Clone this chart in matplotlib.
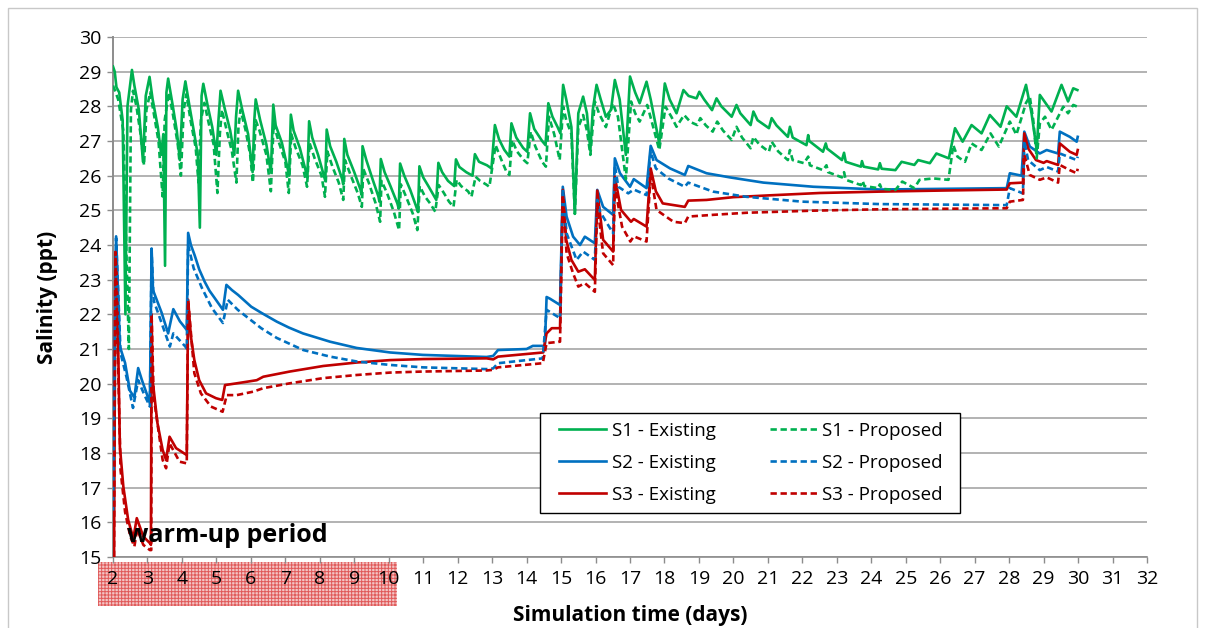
import matplotlib
matplotlib.use("Agg")
import matplotlib.pyplot as plt
from matplotlib.patches import Rectangle

plt.rcParams['font.family'] = ['Open Sans', 'DejaVu Sans']
plt.rcParams['hatch.linewidth'] = 0.7

# ---- salinity series: (simulation day, salinity in ppt) ----
s1_existing = [
    (2.00, 29.15), (2.05, 29.00), (2.10, 28.55), (2.18, 28.40), (2.28, 27.60), (2.36, 22.00),
    (2.42, 28.00), (2.55, 29.05), (2.62, 28.60), (2.75, 27.90), (2.87, 26.40), (2.95, 28.30),
    (3.06, 28.85), (3.15, 28.20), (3.30, 27.40), (3.40, 26.60), (3.46, 27.20), (3.51, 23.40),
    (3.55, 28.40), (3.60, 28.80), (3.72, 28.10), (3.85, 27.30), (3.94, 26.45), (4.02, 28.20),
    (4.10, 28.72), (4.22, 28.00), (4.36, 27.20), (4.46, 26.60), (4.52, 24.50), (4.57, 28.30),
    (4.62, 28.65), (4.75, 28.00), (4.88, 27.40), (5.00, 26.60), (5.06, 27.60), (5.12, 28.45),
    (5.25, 27.90), (5.40, 27.30), (5.52, 26.60), (5.57, 27.70), (5.63, 28.45), (5.75, 27.90),
    (5.92, 27.20), (6.05, 26.10), (6.10, 27.60), (6.14, 28.20), (6.27, 27.60), (6.45, 26.90),
    (6.58, 26.10), (6.65, 28.05), (6.72, 27.45), (6.90, 26.95), (7.08, 26.15), (7.11, 26.00),
    (7.16, 27.76), (7.24, 27.30), (7.42, 26.80), (7.60, 26.10), (7.64, 25.95), (7.69, 27.57),
    (7.78, 27.10), (7.95, 26.60), (8.12, 26.00), (8.16, 25.85), (8.20, 27.33), (8.30, 26.85),
    (8.48, 26.40), (8.65, 25.90), (8.68, 25.75), (8.71, 27.06), (8.80, 26.60), (9.00, 26.10),
    (9.18, 25.60), (9.21, 25.45), (9.24, 26.85), (9.35, 26.45), (9.53, 25.90), (9.70, 25.40),
    (9.73, 25.25), (9.77, 26.48), (9.88, 26.10), (10.05, 25.70), (10.25, 25.20), (10.29, 25.05),
    (10.33, 26.35), (10.45, 26.00), (10.62, 25.60), (10.80, 25.10), (10.85, 24.95), (10.89, 26.27),
    (11.00, 25.95), (11.15, 25.70), (11.32, 25.40), (11.38, 25.30), (11.44, 26.37), (11.55, 26.10),
    (11.72, 25.85), (11.90, 25.70), (11.95, 26.47), (12.05, 26.25), (12.25, 26.10), (12.43, 26.00),
    (12.50, 26.62), (12.62, 26.40), (12.85, 26.30), (12.98, 26.21), (13.08, 27.46), (13.20, 27.05),
    (13.35, 26.75), (13.50, 26.55), (13.56, 27.51), (13.70, 27.10), (13.90, 26.80), (14.02, 26.69),
    (14.10, 27.80), (14.22, 27.35), (14.45, 27.00), (14.55, 26.88), (14.63, 28.09), (14.75, 27.70),
    (14.90, 27.40), (14.98, 27.22), (15.06, 28.62), (15.15, 28.20), (15.30, 27.40), (15.40, 24.90),
    (15.50, 27.80), (15.64, 28.28), (15.75, 27.80), (15.85, 26.74), (15.92, 27.90), (16.03, 28.62),
    (16.15, 28.20), (16.30, 27.70), (16.45, 27.90), (16.56, 28.76), (16.70, 28.20), (16.88, 26.60),
    (17.00, 28.86), (17.15, 28.40), (17.28, 28.09), (17.48, 28.71), (17.60, 28.20), (17.85, 26.93),
    (18.01, 28.66), (18.15, 28.20), (18.35, 27.80), (18.55, 28.47), (18.70, 28.30), (18.93, 28.23),
    (19.01, 28.42), (19.15, 28.20), (19.38, 27.89), (19.51, 28.23), (19.65, 28.00), (19.95, 27.70),
    (20.09, 28.04), (20.20, 27.80), (20.50, 27.46), (20.58, 27.85), (20.70, 27.60), (21.03, 27.37),
    (21.11, 27.66), (21.25, 27.45), (21.58, 27.12), (21.64, 27.41), (21.72, 27.10), (22.12, 26.88),
    (22.17, 27.17), (22.20, 27.00), (22.60, 26.69), (22.68, 26.93), (22.72, 26.78), (23.15, 26.45),
    (23.21, 26.66), (23.26, 26.40), (23.70, 26.26), (23.73, 26.42), (23.78, 26.26), (24.20, 26.18),
    (24.25, 26.36), (24.30, 26.20), (24.70, 26.16), (24.88, 26.40), (25.25, 26.31), (25.36, 26.45),
    (25.70, 26.36), (25.89, 26.64), (26.25, 26.50), (26.43, 27.37), (26.65, 26.98), (26.91, 27.46),
    (27.20, 27.22), (27.44, 27.75), (27.75, 27.41), (27.93, 28.00), (28.21, 27.70), (28.49, 28.62),
    (28.65, 27.80), (28.80, 26.74), (28.89, 28.33), (29.23, 27.85), (29.52, 28.62), (29.71, 28.14),
    (29.86, 28.52), (29.98, 28.47),
]

s1_proposed = [
    (2.00, 28.60), (2.06, 28.45), (2.15, 28.20), (2.30, 27.30), (2.46, 21.00), (2.52, 27.90),
    (2.58, 28.45), (2.68, 28.00), (2.80, 27.20), (2.90, 26.30), (2.97, 27.90), (3.08, 28.40),
    (3.20, 27.70), (3.32, 27.00), (3.44, 25.40), (3.50, 27.60), (3.62, 28.40), (3.75, 27.70),
    (3.88, 26.90), (3.97, 26.00), (4.05, 27.90), (4.13, 28.35), (4.25, 27.60), (4.40, 26.80),
    (4.48, 25.80), (4.55, 27.60), (4.65, 28.10), (4.78, 27.50), (4.92, 26.90), (5.03, 25.50),
    (5.10, 27.20), (5.16, 27.90), (5.30, 27.30), (5.45, 26.70), (5.58, 25.80), (5.64, 27.40),
    (5.70, 27.90), (5.85, 27.30), (5.98, 26.60), (6.06, 25.80), (6.14, 27.60), (6.25, 27.30),
    (6.45, 26.60), (6.58, 25.55), (6.66, 27.50), (6.80, 27.00), (7.00, 26.40), (7.10, 25.50),
    (7.17, 27.20), (7.30, 26.80), (7.50, 26.30), (7.63, 25.68), (7.70, 26.95), (7.85, 26.50),
    (8.05, 26.00), (8.15, 25.39), (8.22, 26.70), (8.37, 26.25), (8.55, 25.80), (8.68, 25.30),
    (8.73, 26.45), (8.90, 26.00), (9.10, 25.50), (9.22, 25.10), (9.26, 26.20), (9.42, 25.80),
    (9.62, 25.20), (9.75, 24.67), (9.79, 25.85), (9.95, 25.50), (10.15, 24.95), (10.30, 24.43),
    (10.35, 25.75), (10.50, 25.40), (10.70, 24.90), (10.83, 24.43), (10.90, 25.70), (11.05, 25.40),
    (11.20, 25.20), (11.35, 24.96), (11.45, 25.73), (11.60, 25.50), (11.75, 25.25), (11.88, 25.10),
    (11.97, 25.88), (12.10, 25.70), (12.30, 25.55), (12.40, 25.39), (12.52, 25.97), (12.65, 25.85),
    (12.82, 25.75), (12.92, 25.68), (13.10, 26.88), (13.25, 26.50), (13.42, 26.10), (13.50, 26.02),
    (13.58, 27.03), (13.72, 26.70), (13.92, 26.45), (14.02, 26.36), (14.12, 27.27), (14.25, 26.85),
    (14.45, 26.40), (14.56, 26.26), (14.65, 27.70), (14.80, 27.20), (14.96, 26.45), (15.06, 27.99),
    (15.15, 27.60), (15.30, 27.20), (15.40, 24.90), (15.50, 27.40), (15.64, 27.75), (15.75, 27.30),
    (15.85, 26.60), (15.98, 28.14), (16.10, 27.80), (16.30, 27.40), (16.50, 28.09), (16.65, 27.70),
    (16.88, 25.90), (17.03, 28.14), (17.15, 27.80), (17.28, 27.56), (17.50, 28.04), (17.62, 27.60),
    (17.85, 26.74), (18.03, 27.99), (18.20, 27.70), (18.35, 27.41), (18.57, 27.75), (18.75, 27.55),
    (18.95, 27.46), (19.04, 27.66), (19.20, 27.45), (19.40, 27.27), (19.53, 27.56), (19.70, 27.30),
    (19.95, 27.03), (20.09, 27.41), (20.25, 27.10), (20.50, 26.79), (20.58, 27.12), (20.75, 26.90),
    (21.03, 26.69), (21.11, 26.98), (21.30, 26.70), (21.58, 26.45), (21.64, 26.74), (21.72, 26.45),
    (22.05, 26.36), (22.17, 26.55), (22.22, 26.30), (22.60, 26.16), (22.70, 26.30), (22.75, 26.10),
    (23.15, 25.95), (23.21, 26.10), (23.26, 25.88), (23.70, 25.73), (23.75, 25.85), (23.80, 25.70),
    (24.20, 25.64), (24.25, 25.75), (24.30, 25.62), (24.70, 25.59), (24.90, 25.83), (25.25, 25.64),
    (25.40, 25.88), (25.80, 25.92), (26.24, 25.88), (26.38, 26.88), (26.50, 26.55), (26.72, 26.40),
    (26.91, 26.93), (27.20, 26.74), (27.46, 27.22), (27.70, 26.84), (28.02, 27.56), (28.21, 27.18),
    (28.49, 28.10), (28.60, 28.28), (28.70, 27.60), (28.80, 26.50), (28.89, 27.50), (29.04, 27.70),
    (29.23, 27.32), (29.57, 27.99), (29.71, 27.80), (29.86, 28.04), (29.98, 27.99),
]

s2_existing = [
    (2.00, 16.30), (2.09, 24.25), (2.20, 21.07), (2.35, 20.60), (2.49, 19.80), (2.62, 19.60),
    (2.73, 20.45), (2.84, 20.10), (3.07, 19.45), (3.12, 23.90), (3.16, 22.70), (3.41, 22.05),
    (3.60, 21.45), (3.75, 22.15), (3.94, 21.80), (4.14, 21.55), (4.18, 24.35), (4.26, 24.00),
    (4.37, 23.70), (4.50, 23.30), (4.66, 22.94), (4.80, 22.68), (4.95, 22.47), (5.19, 22.13),
    (5.29, 22.85), (5.45, 22.70), (5.63, 22.56), (6.01, 22.22), (6.31, 22.04), (6.75, 21.79),
    (7.10, 21.62), (7.51, 21.45), (8.30, 21.21), (9.07, 21.03), (10.04, 20.90), (10.99, 20.83),
    (12.84, 20.77), (13.03, 20.80), (13.17, 20.97), (14.00, 21.00), (14.18, 21.09), (14.53, 21.09),
    (14.58, 22.50), (14.68, 22.45), (14.97, 22.27), (15.05, 25.68), (15.16, 24.82), (15.35, 24.24),
    (15.55, 24.00), (15.69, 24.24), (15.98, 24.05), (16.05, 25.59), (16.22, 25.10), (16.51, 24.87),
    (16.56, 26.50), (16.71, 26.07), (17.00, 25.68), (17.11, 25.90), (17.48, 25.64), (17.60, 26.86),
    (17.77, 26.45), (18.16, 26.21), (18.59, 26.02), (18.69, 26.28), (19.22, 26.07), (19.90, 25.95),
    (20.87, 25.80), (22.32, 25.68), (24.25, 25.60), (27.93, 25.64), (28.02, 26.07), (28.36, 26.00),
    (28.44, 27.27), (28.60, 26.84), (28.89, 26.64), (29.09, 26.74), (29.42, 26.64), (29.47, 27.27),
    (29.76, 27.12), (29.96, 26.98), (29.99, 27.12),
]

s2_proposed = [
    (2.00, 16.30), (2.09, 24.20), (2.22, 20.88), (2.39, 20.20), (2.58, 19.30), (2.73, 20.10),
    (2.90, 19.70), (3.07, 19.34), (3.12, 23.80), (3.18, 22.40), (3.41, 21.75), (3.65, 21.07),
    (3.75, 21.45), (4.10, 21.07), (4.14, 21.00), (4.18, 24.00), (4.34, 23.33), (4.58, 22.76),
    (4.87, 22.18), (5.19, 21.75), (5.33, 22.42), (5.62, 22.13), (6.30, 21.60), (6.75, 21.32),
    (7.52, 20.97), (8.30, 20.78), (9.07, 20.64), (10.04, 20.54), (11.00, 20.47), (12.84, 20.42),
    (13.03, 20.44), (13.17, 20.59), (14.47, 20.73), (14.58, 22.13), (14.97, 21.89), (15.05, 25.60),
    (15.16, 24.34), (15.45, 23.57), (15.64, 23.81), (15.98, 23.57), (16.05, 25.30), (16.13, 24.96),
    (16.51, 24.34), (16.56, 26.30), (16.66, 25.68), (16.95, 25.49), (17.11, 25.60), (17.48, 25.44),
    (17.60, 26.70), (17.75, 26.21), (18.11, 25.92), (18.59, 25.68), (18.69, 25.80), (19.41, 25.54),
    (20.38, 25.39), (22.00, 25.25), (24.25, 25.18), (27.93, 25.15), (28.02, 25.64), (28.40, 25.49),
    (28.44, 27.00), (28.55, 26.45), (28.89, 26.16), (29.09, 26.25), (29.42, 26.12), (29.47, 26.64),
    (29.96, 26.45), (29.99, 26.55),
]

s3_existing = [
    (2.03, 15.00), (2.07, 23.80), (2.11, 23.00), (2.15, 21.07), (2.20, 18.18), (2.30, 17.03),
    (2.44, 16.07), (2.59, 15.54), (2.69, 16.12), (2.88, 15.59), (3.07, 15.40), (3.10, 15.35),
    (3.12, 22.00), (3.15, 20.10), (3.29, 18.86), (3.44, 18.09), (3.54, 17.80), (3.64, 18.47),
    (3.83, 18.14), (4.14, 17.94), (4.18, 22.42), (4.26, 21.36), (4.36, 20.68), (4.50, 20.10),
    (4.70, 19.72), (4.99, 19.58), (5.17, 19.53), (5.25, 19.96), (5.59, 20.01), (6.17, 20.10),
    (6.36, 20.20), (7.13, 20.35), (8.10, 20.51), (9.07, 20.61), (10.04, 20.68), (11.00, 20.71),
    (12.84, 20.73), (13.03, 20.70), (13.17, 20.78), (14.48, 20.90), (14.58, 21.45), (14.73, 21.60),
    (14.97, 21.60), (15.05, 25.59), (15.15, 24.15), (15.30, 23.57), (15.50, 23.23), (15.69, 23.30),
    (15.98, 22.99), (16.05, 25.57), (16.22, 24.15), (16.51, 23.81), (16.56, 25.97), (16.74, 25.01),
    (17.03, 24.67), (17.11, 24.75), (17.48, 24.53), (17.60, 26.21), (17.75, 25.55), (17.95, 25.20),
    (18.59, 25.10), (18.69, 25.28), (19.22, 25.30), (20.00, 25.38), (21.00, 25.43), (22.50, 25.50),
    (24.25, 25.54), (26.00, 25.57), (27.93, 25.60), (28.02, 25.78), (28.40, 25.80), (28.44, 27.22),
    (28.55, 26.79), (28.78, 26.45), (29.00, 26.37), (29.09, 26.42), (29.42, 26.31), (29.47, 26.93),
    (29.76, 26.69), (29.96, 26.60), (29.99, 26.74),
]

s3_proposed = [
    (2.03, 15.00), (2.07, 23.80), (2.15, 20.50), (2.22, 17.50), (2.35, 16.30), (2.50, 15.60),
    (2.62, 15.30), (2.70, 15.80), (2.88, 15.35), (3.07, 15.20), (3.11, 15.20), (3.12, 22.00),
    (3.18, 19.63), (3.44, 17.80), (3.54, 17.56), (3.64, 18.28), (3.93, 17.75), (4.14, 17.70),
    (4.18, 22.40), (4.36, 20.30), (4.55, 19.72), (4.84, 19.34), (5.18, 19.19), (5.30, 19.67),
    (5.59, 19.67), (6.07, 19.77), (6.36, 19.87), (7.13, 20.01), (8.10, 20.16), (9.07, 20.25),
    (10.04, 20.32), (11.00, 20.35), (12.84, 20.38), (13.03, 20.40), (13.17, 20.47), (14.47, 20.59),
    (14.58, 21.17), (14.97, 21.21), (15.05, 25.45), (15.16, 23.76), (15.35, 23.18), (15.50, 22.80),
    (15.69, 22.90), (15.98, 22.65), (16.05, 25.20), (16.22, 23.76), (16.51, 23.42), (16.56, 25.68),
    (16.77, 24.53), (17.01, 24.10), (17.11, 24.25), (17.48, 24.10), (17.60, 26.07), (17.77, 25.01),
    (18.26, 24.67), (18.59, 24.63), (18.69, 24.82), (19.41, 24.87), (20.38, 24.93), (22.30, 24.99),
    (24.25, 25.03), (27.93, 25.06), (28.02, 25.25), (28.40, 25.30), (28.44, 26.60), (28.60, 26.02),
    (28.89, 25.88), (29.09, 25.95), (29.42, 25.80), (29.47, 26.31), (29.76, 26.16), (29.96, 26.07),
    (29.99, 26.20),
]

series_labels = ["S1 - Existing", "S2 - Existing", "S3 - Existing",
                 "S1 - Proposed", "S2 - Proposed", "S3 - Proposed"]
x_ticks = list(range(2, 33))
y_ticks = list(range(15, 31))

GREEN, BLUE, RED = "#00b050", "#0070c0", "#c00000"
DASH = (0, (2.4, 1.4))

W, H = 1205, 628
fig = plt.figure(figsize=(W / 100, H / 100), dpi=100)
ax = fig.add_axes([113 / W, 1 - 557 / H, (1147 - 113) / W, (557 - 37) / H])


def ax_frac(px, py):
    """Pixel position on the canvas -> axes fraction."""
    return (px - 113) / (1147 - 113), (557 - py) / (557 - 37)


# chart-area frame
fig.add_artist(Rectangle((8 / W, -0.05), (1197 - 8) / W, 1.05 - 8 / H,
                         transform=fig.transFigure, fill=False,
                         edgecolor="#c8c8c8", lw=1.0, zorder=-5))

# hatched band marking the warm-up days under the axis
fig.add_artist(Rectangle((98 / W, 1 - 606 / H), (397 - 98) / W, (606 - 562) / H,
                         transform=fig.transFigure, facecolor="#f4c4c4",
                         edgecolor="#e05a5a", hatch="+++++", lw=0, zorder=-4))

styles = [
    (s1_existing, GREEN, "-"), (s2_existing, BLUE, "-"), (s3_existing, RED, "-"),
    (s1_proposed, GREEN, DASH), (s2_proposed, BLUE, DASH), (s3_proposed, RED, DASH),
]
handles = []
for (data, color, ls), label in zip(styles, series_labels):
    t, v = zip(*data)
    h, = ax.plot(t, v, color=color, ls=ls, lw=1.9, label=label,
                 solid_joinstyle="round", zorder=3)
    handles.append(h)

ax.set_xlim(2, 32)
ax.set_ylim(15, 30)
ax.set_xticks(x_ticks)
ax.set_yticks(y_ticks)
ax.grid(axis="y", color="#a6a6a6", lw=1.2)
ax.grid(axis="x", visible=False)
ax.set_axisbelow(True)
for side in ("top", "right"):
    ax.spines[side].set_visible(False)
ax.spines["left"].set_color("#8c8c8c")
ax.spines["left"].set_linewidth(1.4)
ax.spines["bottom"].set_color("#8c8c8c")
ax.spines["bottom"].set_linewidth(1.2)
ax.tick_params(axis="both", direction="out", length=4.5, width=1.0,
               color="#8c8c8c", labelsize=14, labelcolor="black")
ax.tick_params(axis="y", pad=4)
ax.tick_params(axis="x", pad=5)

ax.text(2.42, 15.62, "warm-up period", fontsize=18, fontweight="bold",
        ha="left", va="center", zorder=5)

fig.text(630 / W, 1 - 615 / H, "Simulation time (days)", fontsize=15,
         fontweight="bold", ha="center", va="center")
fig.text(48 / W, 1 - 297 / H, "Salinity (ppt)", fontsize=15,
         fontweight="bold", ha="center", va="center", rotation=90)

# legend frame drawn at a fixed spot, entries placed inside it
fx0, fy0 = ax_frac(540, 512.7)
fx1, fy1 = ax_frac(960, 412.7)
ax.add_patch(Rectangle((fx0, fy0), fx1 - fx0, fy1 - fy0, transform=ax.transAxes,
                       facecolor="white", edgecolor="black", lw=1.0, zorder=6))
lx, ly = ax_frac(559, 421.5)
leg = ax.legend(handles=handles, ncol=2, loc="upper left",
                bbox_to_anchor=(lx, ly), fontsize=13.5, frameon=False,
                handlelength=2.5, handletextpad=0.3, columnspacing=2.9,
                labelspacing=0.76, borderpad=0, borderaxespad=0)
leg.set_zorder(7)

fig.savefig("out.png", dpi=100, facecolor="white")
